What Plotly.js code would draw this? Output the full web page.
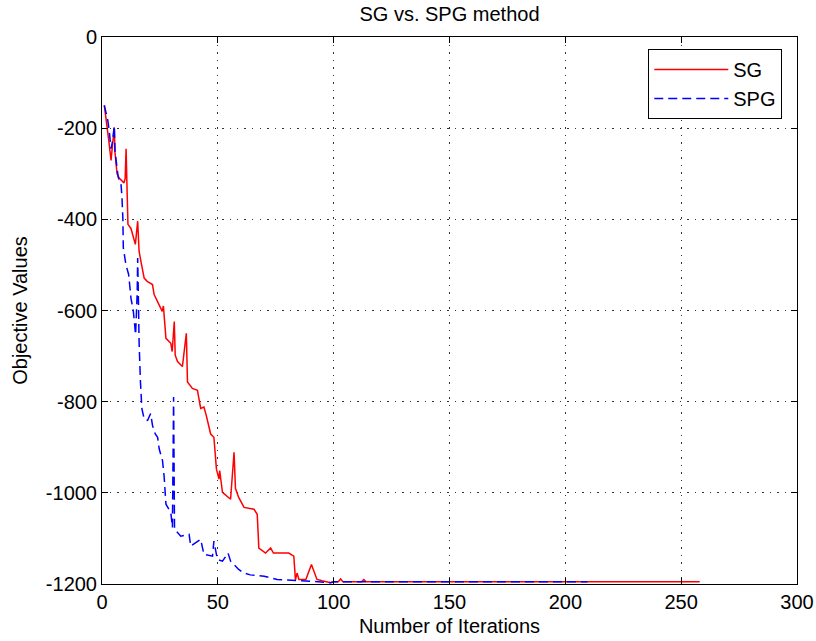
<!DOCTYPE html>
<html>
<head>
<meta charset="utf-8">
<script src="https://cdn.plot.ly/plotly-3.0.1.min.js"></script>
<style>html,body{margin:0;padding:0;background:#fff;}#chart{width:816px;height:641px;}</style>
</head>
<body>
<div id="chart"></div>
<script>
// SG (stochastic gradient) objective values per iteration
var sgIter = [1,2,3,3.9,4.5,5.3,5.6,6.5,7.5,8.5,9.5,10,10.4,10.8,11.2,12.5,13.5,14.4,15.4,16,16.8,18.2,19.5,21,21.8,22.5,24,26,26.5,27.6,29.7,30.3,31.2,31.6,32.6,34.7,36.4,36.9,39,41.2,42.6,44,45,46.9,48.3,49.4,50.5,50.8,52,55.5,57,57.6,59,61.3,65.6,67,67.7,70.6,72.8,74,80.6,82.8,83.5,84.2,85,86.4,88,90.4,92.8,95,98.6,100,102,103,104,112,113,114,258];
var sgVal  = [-150,-185,-230,-271,-240,-198,-253,-300,-310,-315,-320,-310,-245,-330,-411,-420,-440,-455,-404,-470,-492,-529,-536,-540,-543,-565,-580,-602,-590,-661,-672,-690,-624,-698,-712,-723,-650,-757,-771,-775,-815,-812,-830,-871,-878,-948,-970,-951,-999,-1014,-911,-990,-1010,-1032,-1036,-1047,-1121,-1132,-1121,-1132,-1132,-1139,-1191,-1176,-1190,-1190,-1190,-1157,-1190,-1193,-1197,-1195,-1195,-1189,-1195,-1195,-1190,-1195,-1195];

// SPG (stochastic proximal gradient) objective values per iteration
var spgIter = [1,2.5,3.1,3.9,4.5,5.3,5.6,6,7,8.2,8.6,9,9.2,10.3,11.5,11.8,12.5,13.5,14,14.5,15.2,15.4,15.8,16,16.6,17,17.2,18.2,19.7,21,21.8,23,24,24.7,26.1,26.8,27.6,29.7,30.4,30.9,31.3,34,37.6,38.3,42.6,44,47.7,48.3,49.8,52,54.4,55.5,59,61.3,64,70,75.6,90,98.6,100,209.6];
var spgVal  = [-150,-183,-205,-245,-230,-195,-250,-264,-308,-323,-349,-397,-462,-499,-521,-536,-573,-600,-624,-653,-560,-485,-600,-668,-757,-793,-815,-838,-841,-826,-852,-871,-878,-904,-929,-963,-1025,-1043,-1076,-790,-1080,-1095,-1091,-1117,-1102,-1135,-1139,-1106,-1146,-1150,-1132,-1150,-1168,-1176,-1180,-1183,-1190,-1194,-1197,-1195,-1195];

var seriesNames = ['SG', 'SPG'];
var xTicks = [0, 50, 100, 150, 200, 250, 300];
var yTicks = [-1200, -1000, -800, -600, -400, -200, 0];

var FONT = 'Liberation Sans, Arial, Helvetica, sans-serif';

var traces = [
  {x: sgIter, y: sgVal, name: seriesNames[0], type: 'scatter', mode: 'lines',
   line: {color: '#ff0000', width: 1.5}},
  {x: spgIter, y: spgVal, name: seriesNames[1], type: 'scatter', mode: 'lines',
   line: {color: '#0000ff', width: 1.5, dash: '9px,5px'}}
];

var axisCommon = {
  showline: true, mirror: 'ticks', linecolor: '#000', linewidth: 1,
  ticks: 'inside', ticklen: 6, tickcolor: '#000', tickwidth: 1,
  showgrid: true, gridcolor: '#333', gridwidth: 1.2, griddash: '1.5px,6px',
  zeroline: false, tickfont: {family: FONT, size: 20, color: '#000'}
};

var layout = {
  width: 816, height: 641,
  margin: {l: 102, r: 19, t: 37, b: 57},
  paper_bgcolor: '#fff', plot_bgcolor: '#fff',
  font: {family: FONT, color: '#000'},
  title: {text: 'SG vs. SPG method', font: {family: FONT, size: 20, color: '#000'},
          x: 0.5, xref: 'paper', y: 1 - 14/641, yref: 'container', yanchor: 'middle'},
  xaxis: Object.assign({}, axisCommon, {
    range: [0, 300], tickvals: xTicks, ticktext: xTicks.map(String),
    title: {text: 'Number of Iterations', font: {family: FONT, size: 20, color: '#000'}, standoff: 6}
  }),
  yaxis: Object.assign({}, axisCommon, {
    range: [-1200, 0], tickvals: yTicks, ticktext: yTicks.map(String),
    title: {text: 'Objective Values', font: {family: FONT, size: 20, color: '#000'}, standoff: 12}
  }),
  legend: {
    x: 0.786, y: 0.978, xanchor: 'left', yanchor: 'top',
    bgcolor: '#fff', bordercolor: '#000', borderwidth: 1,
    font: {family: FONT, size: 20, color: '#000'},
    itemwidth: 74, tracegroupgap: 0
  },
  showlegend: true
};

Plotly.newPlot('chart', traces, layout, {staticPlot: true, displayModeBar: false});
</script>
</body>
</html>
